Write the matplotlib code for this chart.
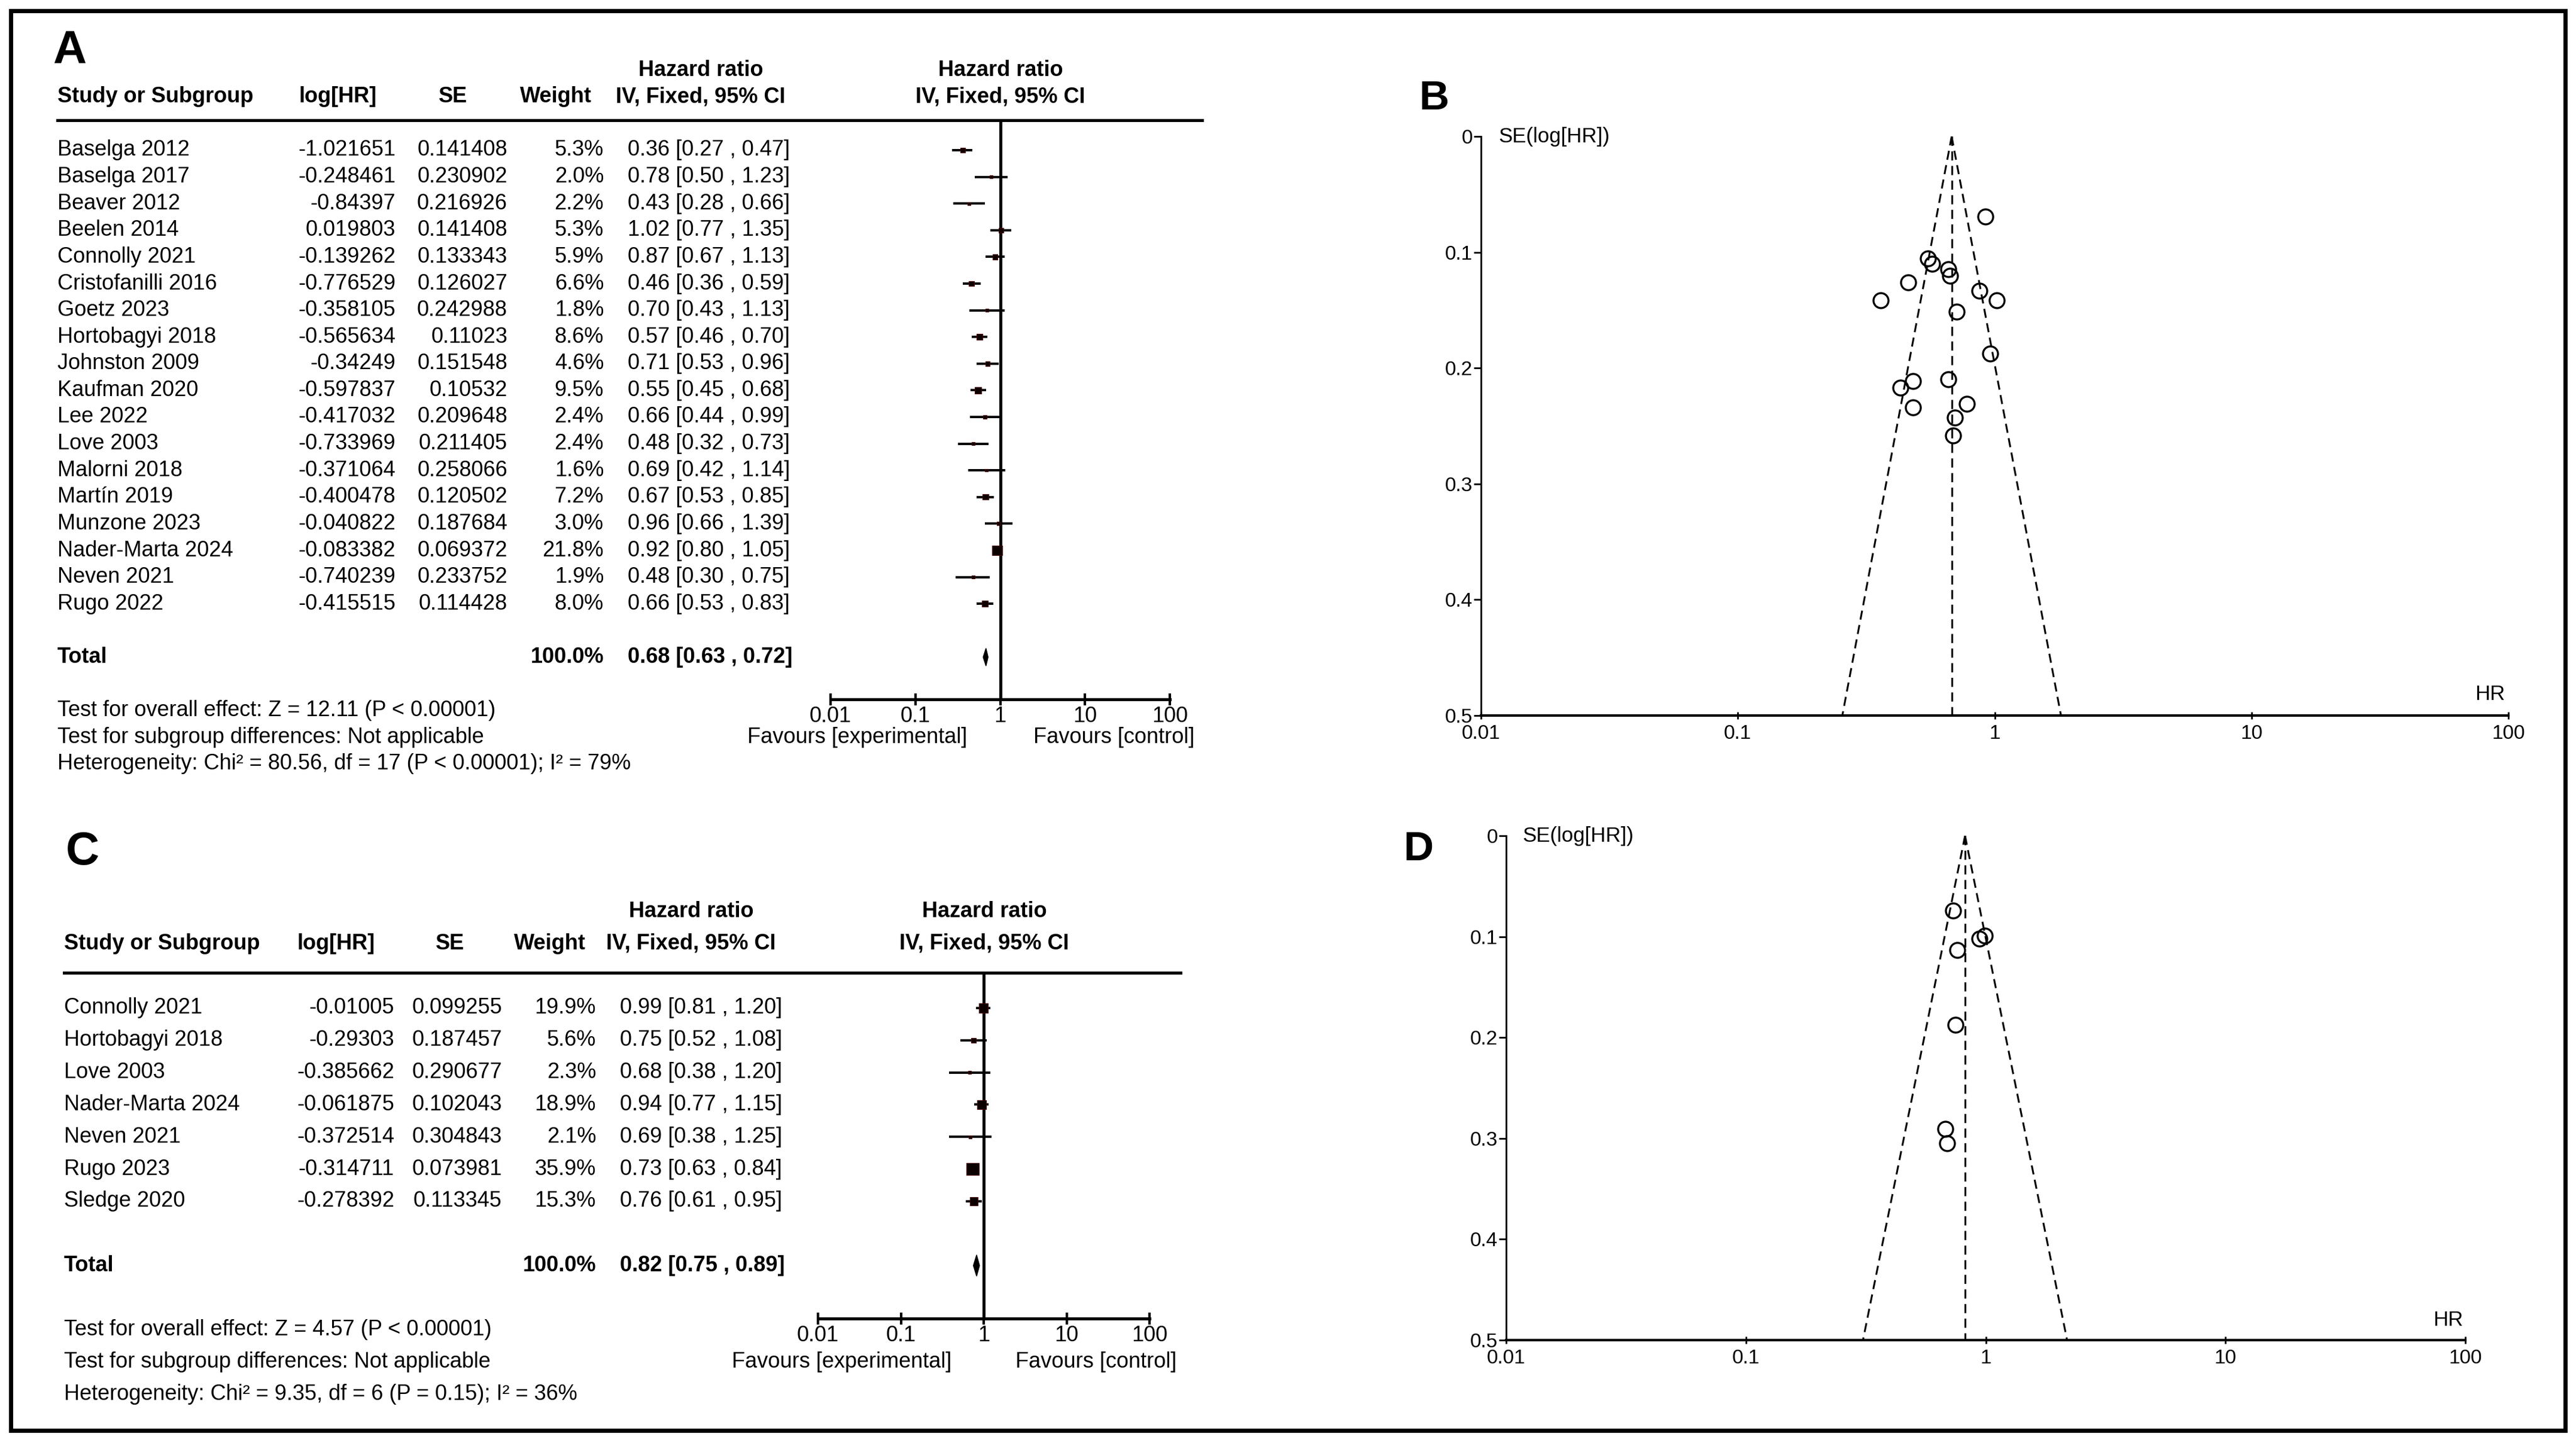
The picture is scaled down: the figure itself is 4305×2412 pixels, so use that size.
import numpy as np
import matplotlib
matplotlib.use('Agg')
import matplotlib.pyplot as plt
from matplotlib.transforms import blended_transform_factory
from matplotlib.patches import Rectangle
from matplotlib.ticker import NullLocator

plt.rcParams['font.family'] = ['Liberation Sans', 'DejaVu Sans']

# ---- data: panel A / B (all outcomes) ----
studies_a = ['Baselga 2012', 'Baselga 2017', 'Beaver 2012', 'Beelen 2014', 'Connolly 2021',
             'Cristofanilli 2016', 'Goetz 2023', 'Hortobagyi 2018', 'Johnston 2009', 'Kaufman 2020',
             'Lee 2022', 'Love 2003', 'Malorni 2018', 'Martín 2019', 'Munzone 2023',
             'Nader-Marta 2024', 'Neven 2021', 'Rugo 2022']
loghr_a = [-1.021651, -0.248461, -0.84397, 0.019803, -0.139262, -0.776529, -0.358105, -0.565634,
           -0.34249, -0.597837, -0.417032, -0.733969, -0.371064, -0.400478, -0.040822, -0.083382,
           -0.740239, -0.415515]
se_a = [0.141408, 0.230902, 0.216926, 0.141408, 0.133343, 0.126027, 0.242988, 0.11023, 0.151548,
        0.10532, 0.209648, 0.211405, 0.258066, 0.120502, 0.187684, 0.069372, 0.233752, 0.114428]
weight_a = [5.3, 2.0, 2.2, 5.3, 5.9, 6.6, 1.8, 8.6, 4.6, 9.5, 2.4, 2.4, 1.6, 7.2, 3.0, 21.8, 1.9, 8.0]
hr_a = [0.36, 0.78, 0.43, 1.02, 0.87, 0.46, 0.70, 0.57, 0.71, 0.55, 0.66, 0.48, 0.69, 0.67, 0.96, 0.92, 0.48, 0.66]
lo_a = [0.27, 0.50, 0.28, 0.77, 0.67, 0.36, 0.43, 0.46, 0.53, 0.45, 0.44, 0.32, 0.42, 0.53, 0.66, 0.80, 0.30, 0.53]
hi_a = [0.47, 1.23, 0.66, 1.35, 1.13, 0.59, 1.13, 0.70, 0.96, 0.68, 0.99, 0.73, 1.14, 0.85, 1.39, 1.05, 0.75, 0.83]
total_a = (0.68, 0.63, 0.72)
footer_a = ['Test for overall effect: Z = 12.11 (P < 0.00001)',
            'Test for subgroup differences: Not applicable',
            'Heterogeneity: Chi² = 80.56, df = 17 (P < 0.00001); I² = 79%']

# ---- data: panel C / D ----
studies_c = ['Connolly 2021', 'Hortobagyi 2018', 'Love 2003', 'Nader-Marta 2024', 'Neven 2021',
             'Rugo 2023', 'Sledge 2020']
loghr_c = [-0.01005, -0.29303, -0.385662, -0.061875, -0.372514, -0.314711, -0.278392]
se_c = [0.099255, 0.187457, 0.290677, 0.102043, 0.304843, 0.073981, 0.113345]
weight_c = [19.9, 5.6, 2.3, 18.9, 2.1, 35.9, 15.3]
hr_c = [0.99, 0.75, 0.68, 0.94, 0.69, 0.73, 0.76]
lo_c = [0.81, 0.52, 0.38, 0.77, 0.38, 0.63, 0.61]
hi_c = [1.20, 1.08, 1.20, 1.15, 1.25, 0.84, 0.95]
total_c = (0.82, 0.75, 0.89)
footer_c = ['Test for overall effect: Z = 4.57 (P < 0.00001)',
            'Test for subgroup differences: Not applicable',
            'Heterogeneity: Chi² = 9.35, df = 6 (P = 0.15); I² = 36%']

hr_ticks = [0.01, 0.1, 1, 10, 100]
hr_tick_labels = ['0.01', '0.1', '1', '10', '100']
se_ticks = [0, 0.1, 0.2, 0.3, 0.4, 0.5]
se_tick_labels = ['0', '0.1', '0.2', '0.3', '0.4', '0.5']

W, H = 4305, 2412
fig = plt.figure(figsize=(W / 100, H / 100), dpi=100)
FS = 26


def fx(px):
    return px / W


def ci_text(h, l, u):
    return f'{h:.2f} [{l:.2f} , {u:.2f}]'


def forest(box, row0, rowstep, cols, studies, loghr, se, weight, hr, lo, hi, total, footer, fav):
    x0, x1, ytop, ybot = box
    ax = fig.add_axes([fx(x0), 1 - ybot / H, fx(x1 - x0), (ybot - ytop) / H])
    ax.set_xscale('log')
    ax.set_xlim(0.01, 100)
    ylo, yhi = (ybot - row0) / rowstep, (ytop - row0) / rowstep
    ax.set_ylim(ylo, yhi)
    n = len(studies)
    rows = np.arange(n)
    ax.hlines(rows, lo, hi, color='black', lw=2.8, zorder=2)
    ax.scatter(hr, rows, s=np.array(weight) * 6.3, marker='s', c='#0d0000',
               edgecolors='#4a0000', linewidths=0.8, zorder=3)
    t, tl, th = total
    trow = n + 1
    ax.fill([tl, t, th, t], [trow, trow - 0.33, trow, trow + 0.33], color='black', zorder=3)
    ax.axvline(1, color='black', lw=3.6)
    for s in ['top', 'right', 'left']:
        ax.spines[s].set_visible(False)
    ax.spines['bottom'].set_linewidth(3.6)
    ax.set_xticks(hr_ticks)
    ax.set_xticklabels(hr_tick_labels, fontsize=FS)
    ax.xaxis.set_minor_locator(NullLocator())
    ax.tick_params(axis='x', direction='inout', length=14, width=3, pad=1)
    ax.set_yticks([])

    tr = blended_transform_factory(fig.transFigure, ax.transData)
    sx, lx, sex, wx, cix, hlx, hsex, hwx, hcix, lend, fcx = cols
    ax.plot([fx(sx), fx(lend)], [yhi, yhi], transform=tr, color='black', lw=3.6, clip_on=False)
    bold = dict(transform=tr, fontsize=FS, fontweight='bold', va='center')
    ax.text(fx(sx), -2, 'Study or Subgroup', ha='left', **bold)
    ax.text(fx(hlx), -2, 'log[HR]', ha='center', **bold)
    ax.text(fx(hsex), -2, 'SE', ha='center', **bold)
    ax.text(fx(hwx), -2, 'Weight', ha='center', **bold)
    ax.text(fx(hcix), -3, 'Hazard ratio', ha='center', **bold)
    ax.text(fx(hcix), -2, 'IV, Fixed, 95% CI', ha='center', **bold)
    ax.text(fx(fcx), -3, 'Hazard ratio', ha='center', **bold)
    ax.text(fx(fcx), -2, 'IV, Fixed, 95% CI', ha='center', **bold)
    norm = dict(transform=tr, fontsize=FS, va='center')
    for i in range(n):
        ax.text(fx(sx), i, studies[i], ha='left', **norm)
        ax.text(fx(lx), i, f'{loghr[i]}', ha='right', **norm)
        ax.text(fx(sex), i, f'{se[i]}', ha='right', **norm)
        ax.text(fx(wx), i, f'{weight[i]:.1f}%', ha='right', **norm)
        ax.text(fx(cix), i, ci_text(hr[i], lo[i], hi[i]), ha='left', **norm)
    ax.text(fx(sx), trow, 'Total', ha='left', **bold)
    ax.text(fx(wx), trow, '100.0%', ha='right', **bold)
    ax.text(fx(cix), trow, ci_text(t, tl, th), ha='left', **bold)
    for k, line in enumerate(footer):
        ax.text(fx(sx), n + 3 + k, line, ha='left', **norm)
    ax.text(fx(fav[0]), n + 4, 'Favours [experimental]', ha='right', **norm)
    ax.text(fx(fav[1]), n + 4, 'Favours [control]', ha='left', **norm)
    return ax


def funnel(box, hr, se, pooled):
    x0, x1, ytop, ybot = box
    ax = fig.add_axes([fx(x0), 1 - ybot / H, fx(x1 - x0), (ybot - ytop) / H])
    ax.set_xscale('log')
    ax.set_xlim(0.01, 100)
    ax.set_ylim(0.5, 0)
    se_line = np.array([0, 0.5])
    dash = dict(color='black', lw=2.2, dashes=(5, 3))
    ax.plot(pooled * np.exp(-1.96 * se_line), se_line, **dash)
    ax.plot(pooled * np.exp(1.96 * se_line), se_line, **dash)
    ax.plot([pooled, pooled], se_line, **dash)
    ax.plot(hr, se, 'o', mfc='none', mec='black', ms=18, mew=2.4, ls='none', clip_on=False)
    for s in ['top', 'right']:
        ax.spines[s].set_visible(False)
    ax.spines['left'].set_linewidth(2)
    ax.spines['bottom'].set_linewidth(3)
    ax.set_xticks(hr_ticks)
    ax.set_xticklabels(hr_tick_labels, fontsize=24)
    ax.xaxis.set_minor_locator(NullLocator())
    ax.set_yticks(se_ticks)
    ax.set_yticklabels(se_tick_labels, fontsize=24)
    ax.tick_params(axis='y', direction='out', length=9, width=2, pad=1)
    ax.tick_params(axis='x', direction='inout', length=8, width=2, pad=7)
    ax.text(0.017, 1.0, 'SE(log[HR])', transform=ax.transAxes, fontsize=25, ha='left', va='center')
    ax.text(0.982, 0.02, 'HR', transform=ax.transAxes, fontsize=25, ha='center', va='bottom')
    return ax


# panel A forest: cols = study, logHR right, SE right, weight right, CI left,
# header centres (logHR, SE, weight, CI), header line end, forest header centre
forest((1388, 1955, 201, 1169), 251, 44.6,
       (96, 661, 848, 1009, 1049, 565, 757, 929, 1171, 2009, 1672),
       studies_a, loghr_a, se_a, weight_a, hr_a, lo_a, hi_a, total_a, footer_a, (1616, 1727))
forest((1367, 1921, 1626, 2204), 1685, 53.8,
       (107, 659, 839, 996, 1036, 562, 752, 919, 1155, 1973, 1645),
       studies_c, loghr_c, se_c, weight_c, hr_c, lo_c, hi_c, total_c, footer_c, (1590, 1697))

funnel((2475, 4192, 228, 1196), hr_a, se_a, total_a[0])
funnel((2517, 4120, 1397, 2240), hr_c, se_c, total_c[0])

for lab, (px, py), size in [('A', (116, 85), 56), ('B', (2396, 165), 50),
                            ('C', (138, 1424), 56), ('D', (2370, 1420), 50)]:
    fig.text(fx(px), 1 - py / H, lab, fontsize=size, fontweight='bold', ha='center', va='center')

fig.add_artist(Rectangle((fx(18), 1 - 2391 / H), fx(4287 - 18), (2391 - 18) / H,
                         transform=fig.transFigure, fill=False, ec='black', lw=5))

fig.savefig('out.png', dpi=100)
